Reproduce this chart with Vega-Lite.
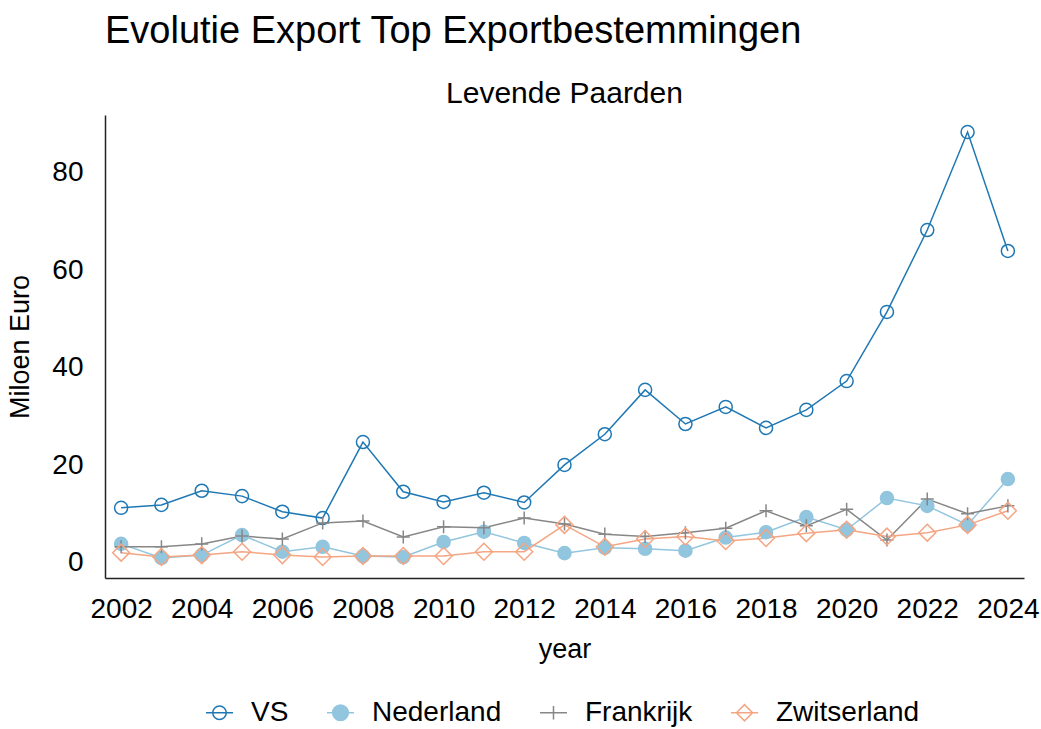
{
  "$schema": "https://vega.github.io/schema/vega-lite/v6.json",
  "padding": {"left": 6, "top": 13, "right": 16, "bottom": 8},
  "background": "white",
  "title": {"text": "Evolutie Export Top Exportbestemmingen", "anchor": "start", "frame": "group", "fontSize": 38, "fontWeight": "normal", "font": "Liberation Sans", "color": "black", "dx": 0, "offset": 28},
  "config": {
    "font": "Liberation Sans",
    "view": {"stroke": null},
    "axis": {"grid": false, "ticks": false, "domainColor": "#222222", "domainWidth": 1.5, "labelFontSize": 28, "titleFontSize": 27, "titleFontWeight": "normal", "labelColor": "black", "titleColor": "black", "labelFont": "Liberation Sans", "titleFont": "Liberation Sans"},
    "legend": {"labelFontSize": 28, "labelColor": "black", "labelFont": "Liberation Sans", "symbolSize": 729, "symbolStrokeWidth": 1.5, "symbolOpacity": 1, "labelOffset": 17, "columnPadding": 35, "padding": 0}
  },
  "data": {"values": [
    {"year": 2002, "land": "VS", "value": 11.3}, {"year": 2003, "land": "VS", "value": 11.9}, {"year": 2004, "land": "VS", "value": 14.8}, {"year": 2005, "land": "VS", "value": 13.7}, {"year": 2006, "land": "VS", "value": 10.5}, {"year": 2007, "land": "VS", "value": 9.2}, {"year": 2008, "land": "VS", "value": 24.8}, {"year": 2009, "land": "VS", "value": 14.6}, {"year": 2010, "land": "VS", "value": 12.5}, {"year": 2011, "land": "VS", "value": 14.4}, {"year": 2012, "land": "VS", "value": 12.4}, {"year": 2013, "land": "VS", "value": 20.1}, {"year": 2014, "land": "VS", "value": 26.4}, {"year": 2015, "land": "VS", "value": 35.5}, {"year": 2016, "land": "VS", "value": 28.5}, {"year": 2017, "land": "VS", "value": 32.0}, {"year": 2018, "land": "VS", "value": 27.7}, {"year": 2019, "land": "VS", "value": 31.4}, {"year": 2020, "land": "VS", "value": 37.3}, {"year": 2021, "land": "VS", "value": 51.5}, {"year": 2022, "land": "VS", "value": 68.3}, {"year": 2023, "land": "VS", "value": 88.4}, {"year": 2024, "land": "VS", "value": 64.0},
    {"year": 2002, "land": "Nederland", "value": 3.9}, {"year": 2003, "land": "Nederland", "value": 1.0}, {"year": 2004, "land": "Nederland", "value": 1.6}, {"year": 2005, "land": "Nederland", "value": 5.7}, {"year": 2006, "land": "Nederland", "value": 2.3}, {"year": 2007, "land": "Nederland", "value": 3.3}, {"year": 2008, "land": "Nederland", "value": 1.4}, {"year": 2009, "land": "Nederland", "value": 1.2}, {"year": 2010, "land": "Nederland", "value": 4.3}, {"year": 2011, "land": "Nederland", "value": 6.4}, {"year": 2012, "land": "Nederland", "value": 4.1}, {"year": 2013, "land": "Nederland", "value": 2.0}, {"year": 2014, "land": "Nederland", "value": 3.1}, {"year": 2015, "land": "Nederland", "value": 2.9}, {"year": 2016, "land": "Nederland", "value": 2.5}, {"year": 2017, "land": "Nederland", "value": 5.2}, {"year": 2018, "land": "Nederland", "value": 6.3}, {"year": 2019, "land": "Nederland", "value": 9.4}, {"year": 2020, "land": "Nederland", "value": 6.8}, {"year": 2021, "land": "Nederland", "value": 13.3}, {"year": 2022, "land": "Nederland", "value": 11.7}, {"year": 2023, "land": "Nederland", "value": 7.8}, {"year": 2024, "land": "Nederland", "value": 17.2},
    {"year": 2002, "land": "Frankrijk", "value": 3.3}, {"year": 2003, "land": "Frankrijk", "value": 3.3}, {"year": 2004, "land": "Frankrijk", "value": 3.9}, {"year": 2005, "land": "Frankrijk", "value": 5.5}, {"year": 2006, "land": "Frankrijk", "value": 4.9}, {"year": 2007, "land": "Frankrijk", "value": 8.2}, {"year": 2008, "land": "Frankrijk", "value": 8.6}, {"year": 2009, "land": "Frankrijk", "value": 5.3}, {"year": 2010, "land": "Frankrijk", "value": 7.4}, {"year": 2011, "land": "Frankrijk", "value": 7.2}, {"year": 2012, "land": "Frankrijk", "value": 9.2}, {"year": 2013, "land": "Frankrijk", "value": 8.0}, {"year": 2014, "land": "Frankrijk", "value": 5.9}, {"year": 2015, "land": "Frankrijk", "value": 5.4}, {"year": 2016, "land": "Frankrijk", "value": 6.2}, {"year": 2017, "land": "Frankrijk", "value": 7.1}, {"year": 2018, "land": "Frankrijk", "value": 10.7}, {"year": 2019, "land": "Frankrijk", "value": 7.6}, {"year": 2020, "land": "Frankrijk", "value": 11.0}, {"year": 2021, "land": "Frankrijk", "value": 4.7}, {"year": 2022, "land": "Frankrijk", "value": 13.1}, {"year": 2023, "land": "Frankrijk", "value": 10.1}, {"year": 2024, "land": "Frankrijk", "value": 11.7},
    {"year": 2002, "land": "Zwitserland", "value": 2.1}, {"year": 2003, "land": "Zwitserland", "value": 1.2}, {"year": 2004, "land": "Zwitserland", "value": 1.6}, {"year": 2005, "land": "Zwitserland", "value": 2.3}, {"year": 2006, "land": "Zwitserland", "value": 1.6}, {"year": 2007, "land": "Zwitserland", "value": 1.2}, {"year": 2008, "land": "Zwitserland", "value": 1.4}, {"year": 2009, "land": "Zwitserland", "value": 1.4}, {"year": 2010, "land": "Zwitserland", "value": 1.4}, {"year": 2011, "land": "Zwitserland", "value": 2.3}, {"year": 2012, "land": "Zwitserland", "value": 2.3}, {"year": 2013, "land": "Zwitserland", "value": 7.8}, {"year": 2014, "land": "Zwitserland", "value": 3.3}, {"year": 2015, "land": "Zwitserland", "value": 4.9}, {"year": 2016, "land": "Zwitserland", "value": 5.4}, {"year": 2017, "land": "Zwitserland", "value": 4.5}, {"year": 2018, "land": "Zwitserland", "value": 5.1}, {"year": 2019, "land": "Zwitserland", "value": 6.1}, {"year": 2020, "land": "Zwitserland", "value": 6.8}, {"year": 2021, "land": "Zwitserland", "value": 5.4}, {"year": 2022, "land": "Zwitserland", "value": 6.2}, {"year": 2023, "land": "Zwitserland", "value": 7.8}, {"year": 2024, "land": "Zwitserland", "value": 10.7}
  ]},
  "vconcat": [{
    "width": 919,
    "height": 463,
    "title": {"text": "Levende Paarden", "fontSize": 30, "fontWeight": "normal", "anchor": "middle", "color": "black", "offset": 6},
    "encoding": {
      "x": {"field": "year", "type": "quantitative", "scale": {"domain": [2001.6, 2024.4], "nice": false, "zero": false}, "axis": {"values": [2002, 2004, 2006, 2008, 2010, 2012, 2014, 2016, 2018, 2020, 2022, 2024], "format": "d", "title": "year", "labelPadding": 17, "titlePadding": 13}},
      "y": {"field": "value", "type": "quantitative", "scale": {"domain": [-3.1, 91.9], "nice": false, "zero": false}, "axis": {"values": [0, 20, 40, 60, 80], "title": "Miloen Euro", "labelPadding": 22, "titlePadding": 17}},
      "color": {"field": "land", "type": "nominal", "sort": ["VS", "Nederland", "Frankrijk", "Zwitserland"], "scale": {"domain": ["VS", "Nederland", "Frankrijk", "Zwitserland"], "range": ["#1f78b4", "#92c5de", "#878787", "#f4a582"]},
        "legend": {"orient": "none", "legendX": 100, "legendY": 583, "direction": "horizontal", "title": null,
          "encode": {"symbols": {"update": {
            "shape": {"signal": "datum.value === 'VS' ? 'M-1,0L1,0M0.5,0A0.5,0.5 0 1,1 -0.5,0A0.5,0.5 0 1,1 0.5,0' : datum.value === 'Nederland' ? 'M-1,0L1,0M0.58,0A0.58,0.58 0 1,1 -0.58,0A0.58,0.58 0 1,1 0.58,0' : datum.value === 'Frankrijk' ? 'M-1,0L1,0M0,-0.5L0,0.5' : 'M-1,0L1,0M-0.6,0L0,-0.6L0.6,0L0,0.6Z'"},
            "fill": {"signal": "datum.value === 'Nederland' ? '#92c5de' : 'transparent'"},
            "stroke": {"signal": "datum.value === 'VS' ? '#1f78b4' : datum.value === 'Nederland' ? '#92c5de' : datum.value === 'Frankrijk' ? '#878787' : '#f4a582'"},
            "strokeWidth": {"value": 1.5},
            "opacity": {"value": 1}
          }}}}}
    },
    "layer": [
      {"mark": {"type": "line", "strokeWidth": 1.5}},
      {"mark": {"type": "point", "filled": false, "strokeWidth": 1.5, "size": 170, "opacity": 1},
       "encoding": {
         "shape": {"condition": [
           {"test": {"field": "land", "equal": "VS"}, "value": "circle"},
           {"test": {"field": "land", "equal": "Nederland"}, "value": "circle"},
           {"test": {"field": "land", "equal": "Frankrijk"}, "value": "M-1,0L1,0M0,-1L0,1"}
         ], "value": "M-1.3,0L0,-1.3L1.3,0L0,1.3Z"},
         "fill": {"condition": {"test": {"field": "land", "equal": "Nederland"}, "value": "#92c5de"}, "value": "transparent"}
       }}
    ]
  }]
}
